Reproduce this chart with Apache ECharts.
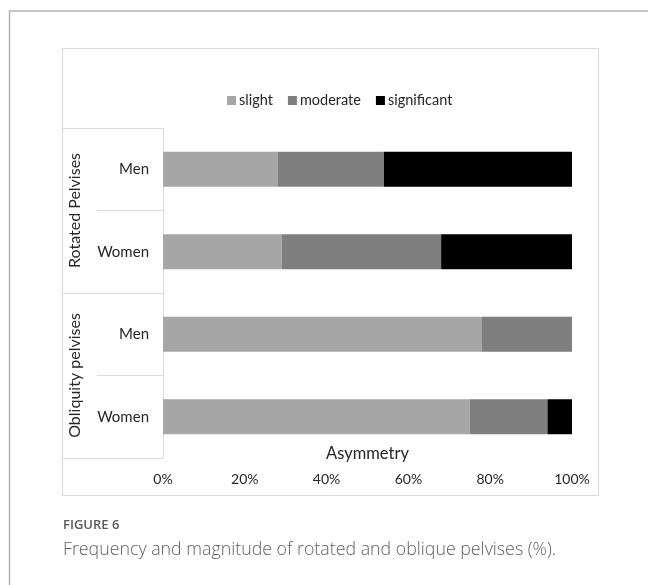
<!DOCTYPE html>
<html>
<head>
<meta charset="utf-8">
<script src="https://cdn.jsdelivr.net/npm/echarts@6/dist/echarts.min.js"></script>
<style>
  html, body { margin: 0; padding: 0; background: #ffffff; }
  #chart { width: 648px; height: 585px; }
</style>
</head>
<body>
<div id="chart"></div>
<script>
// Subgroups (rows, top to bottom) and the pelvis groups they belong to
const categories = ['Men', 'Women', 'Men', 'Women'];
const groups = ['Rotated Pelvises', 'Obliquity pelvises'];

// Share of each asymmetry magnitude, percent per row
const slight      = [28, 29, 78, 75];
const moderate    = [26, 39, 22, 19];
const significant = [46, 32, 0, 6];

const xTicks = [0, 20, 40, 60, 80, 100];

const chart = echarts.init(document.getElementById('chart'), null, { renderer: 'canvas' });

const textFont = 'Lato, "Open Sans", sans-serif';
const lineColor = '#d9d9d9';
const gridBox = { left: 163, right: 76, top: 128, bottom: 127 };

const makeSeries = (name, values, color) => ({
  name: name,
  type: 'bar',
  stack: 'total',
  barWidth: 35,
  data: values,
  itemStyle: { color: color },
  emphasis: { disabled: true }
});

chart.setOption({
  animation: false,
  backgroundColor: '#ffffff',
  textStyle: { fontFamily: textFont },
  graphic: [
    // page frame (top and left edges visible)
    { type: 'rect', shape: { x: 9.5, y: 11, width: 700, height: 700 },
      style: { fill: null, stroke: '#b3b3b3', lineWidth: 1.5 }, silent: true },
    // chart area frame
    { type: 'rect', shape: { x: 62.5, y: 48.5, width: 536, height: 447 },
      style: { fill: null, stroke: lineColor, lineWidth: 1 }, silent: true },
    // value axis title, centred under the plot
    { type: 'text', x: gridBox.left + (648 - gridBox.left - gridBox.right) / 2, y: 454,
      style: { text: 'Asymmetry', fill: '#262626', align: 'center', verticalAlign: 'middle',
               font: '16.5px ' + textFont } },
    { type: 'text', left: 63, top: 519,
      style: { text: 'FIGURE 6', fill: '#5a5a5a', font: '600 13px "Open Sans", sans-serif' } },
    { type: 'text', left: 63, top: 541,
      style: { text: 'Frequency and magnitude of rotated and oblique pelvises (%).',
               fill: '#5f5f5f', font: '300 17.8px "Open Sans", sans-serif' } }
  ],
  legend: {
    left: 222,
    top: 88,
    itemWidth: 9,
    itemHeight: 9,
    itemGap: 15,
    icon: 'rect',
    selectedMode: false,
    textStyle: { fontSize: 14.5, color: '#262626', fontFamily: textFont, padding: [0, 0, 0, -2] },
    data: ['slight', 'moderate', 'significant']
  },
  grid: Object.assign({ containLabel: false }, gridBox),
  xAxis: {
    type: 'value',
    min: 0,
    max: 100,
    interval: 20,
    axisLine: { show: false },
    axisTick: { show: false },
    splitLine: { show: false },
    axisLabel: {
      margin: 14,
      fontSize: 14,
      color: '#262626',
      fontFamily: textFont,
      customValues: xTicks,
      formatter: v => v + '%'
    }
  },
  yAxis: [
    {
      type: 'category',
      data: categories,
      inverse: true,
      position: 'left',
      axisLine: { show: true, lineStyle: { color: lineColor } },
      axisTick: { show: true, length: 66, lineStyle: { color: lineColor } },
      axisLabel: { margin: 14, fontSize: 15, color: '#262626', fontFamily: textFont }
    },
    {
      type: 'category',
      data: groups,
      inverse: true,
      position: 'left',
      axisLine: { show: false },
      axisTick: { show: true, length: 101, lineStyle: { color: lineColor } },
      axisLabel: { margin: 80, rotate: 90, fontSize: 16, color: '#262626', fontFamily: textFont }
    }
  ],
  series: [
    makeSeries('slight', slight, '#a6a6a6'),
    makeSeries('moderate', moderate, '#7f7f7f'),
    makeSeries('significant', significant, '#000000')
  ]
});
</script>
</body>
</html>
